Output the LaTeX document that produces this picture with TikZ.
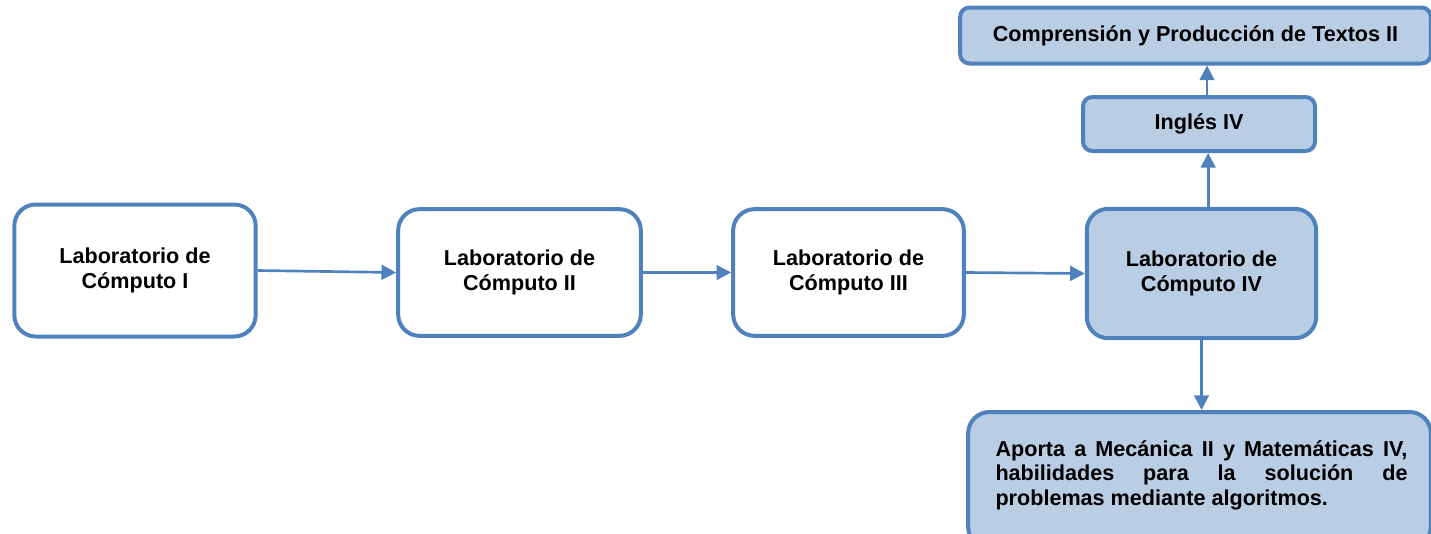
\documentclass[tikz,border=0pt]{standalone}
\usepackage{fontspec}
\setmainfont{Liberation Sans}
\usetikzlibrary{arrows.meta}
\definecolor{bord}{HTML}{4F81BD}
\definecolor{fillb}{HTML}{B9CDE5}
\begin{document}
\begin{tikzpicture}[x=0.75pt,y=-0.75pt,
  box/.style={draw=bord,line width=3pt,rounded corners=16pt,fill=white,
    font=\bfseries\fontsize{16.2}{18.6}\selectfont,align=center,inner sep=0pt},
  boxf/.style={box,fill=fillb},
  smallbox/.style={boxf,rounded corners=7pt},
  conn/.style={draw=bord,line width=2pt,-{Triangle[length=11pt,width=11pt]}}]
\useasboundingbox (0,0) rectangle (1431,533);
\clip (0,0) rectangle (1431,533);
\node[box,minimum width=181pt,minimum height=99pt] (b1) at (135,270.5) {Laboratorio de\\Cómputo I};
\node[box,minimum width=182pt,minimum height=95pt] (b2) at (519.5,272.5) {Laboratorio de\\Cómputo II};
\node[box,minimum width=173pt,minimum height=95pt] (b3) at (848.5,272.5) {Laboratorio de\\Cómputo III};
\node[boxf,minimum width=172pt,minimum height=97pt] (b4) at (1201.5,273.5) {Laboratorio de\\Cómputo IV};
\node[smallbox,minimum width=174pt,minimum height=40.5pt] (ing) at (1199,124) {Inglés IV};
\node[smallbox,minimum width=353pt,minimum height=42pt] (comp) at (1195.5,35.5) {Comprensión y Producción de Textos II};
\node[boxf,minimum width=347pt,minimum height=102pt,text width=312pt,align=justify] (ap) at (1199.5,480)
  {\hspace*{3pt}Aporta a Mecánica II y Matemáticas IV,\linebreak \hspace*{3pt}habilidades para la solución de\linebreak \hspace*{3pt}problemas mediante algoritmos.\vspace{7pt}};
\draw[conn] (b1.east) -- (b2.west);
\draw[conn] (b2.east) -- (b3.west);
\draw[conn] (b3.east) -- (b4.west);
\draw[conn] ([xshift=5pt]b4.north) -- ([xshift=5pt]b4.north |- ing.south);
\draw[conn] ([xshift=6pt]ing.north) -- ([xshift=6pt]ing.north |- comp.south);
\draw[conn] (b4.south) -- (b4.south |- ap.north);
\end{tikzpicture}
\end{document}
